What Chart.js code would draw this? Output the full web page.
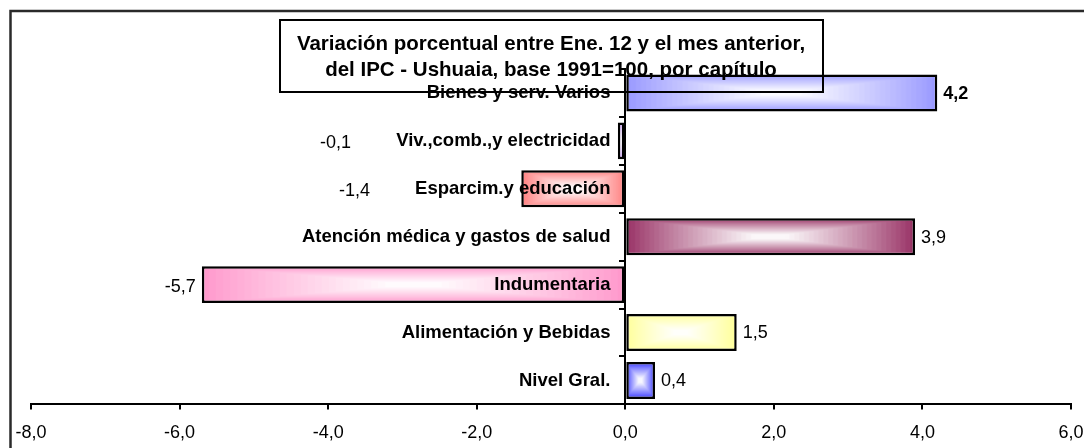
<!DOCTYPE html>
<html>
<head>
<meta charset="utf-8">
<script src="https://cdn.jsdelivr.net/npm/chart.js@4"></script>
<style>
  html, body { margin: 0; padding: 0; background: #fff; }
</style>
</head>
<body>
<canvas id="ipcChart" width="1084" height="448"></canvas>
<script>
const categorias = [
    "Bienes y serv. Varios",
    "Viv.,comb.,y electricidad",
    "Esparcim.y educación",
    "Atención médica y gastos de salud",
    "Indumentaria",
    "Alimentación y Bebidas",
    "Nivel Gral."
];
const variaciones = [4.2, -0.1, -1.4, 3.9, -5.7, 1.5, 0.4];
const coloresBarra = ["#9999FF", "#CC99FF", "#FF8080", "#993366", "#FF99CC", "#FFFF99", "#3333FF"];
const tituloLineas = [
    "Variación porcentual entre Ene. 12 y el mes anterior,",
    "del IPC - Ushuaia, base 1991=100, por capítulo"
];
const ejeMin = -8;
const ejeMax = 6;
const ejePaso = 2;

const FONT = 'Arial, "Liberation Sans", sans-serif';
const BAR_PCT = 0.77;
const CAT_SIZE = 18.5;

function fmt(v) {
    return v.toFixed(1).replace('.', ',');
}

function mix(hex, t) {// t=0 color, t=1 white
    const n = parseInt(hex.slice(1), 16);
    const r = (n >> 16) & 255, g = (n >> 8) & 255, b = n & 255;
    const f = c => Math.round(c + (255 - c) * t);
    return "rgb(" + f(r) + "," + f(g) + "," + f(b) + ")";
}

// rectangular "from center" gradient like the old Excel fills
function rellenoBarra(context) {
    const chart = context.chart;
    const i = context.dataIndex;
    const xs = chart.scales.x, ys = chart.scales.y;
    if (!xs || !ys || i === undefined) return coloresBarra[0];
    const x0 = xs.getPixelForValue(0);
    const x1 = xs.getPixelForValue(variaciones[i]);
    const band = Math.abs(ys.getPixelForValue(1) - ys.getPixelForValue(0));
    const h = Math.round(band * BAR_PCT);
    const w = Math.round(Math.abs(x1 - x0));
    if (!isFinite(h) || !isFinite(w) || h < 2 || w < 2) return coloresBarra[i];
    const left = Math.min(x0, x1);
    const top = ys.getPixelForValue(i) - h / 2;
    const off = document.createElement('canvas');
    off.width = w; off.height = h;
    const oc = off.getContext('2d');
    const steps = 30;
    for (let s = 0; s <= steps; s++) {
        const t = s / steps;
        const ix = t * w / 2, iy = t * h / 2;
        oc.fillStyle = mix(coloresBarra[i], Math.pow(Math.min(1, t * 1.15), 0.9) * 0.96);
        oc.fillRect(ix, iy, w - 2 * ix, h - 2 * iy);
    }
    const pat = chart.ctx.createPattern(off, 'no-repeat');
    pat.setTransform(new DOMMatrix().translate(left, top));
    return pat;
}

const marcoYTitulo = {
    id: 'marcoYTitulo',
    beforeDraw(chart) {
        const ctx = chart.ctx;
        ctx.save();
        ctx.strokeStyle = "#2a2a2a";
        ctx.lineWidth = 2.5;
        ctx.beginPath();
        ctx.moveTo(10.5, chart.height);
        ctx.lineTo(10.5, 11);
        ctx.lineTo(chart.width, 11);
        ctx.stroke();
        ctx.restore();
    },
    afterDraw(chart) {
        const ctx = chart.ctx;
        ctx.save();
        // title box, no fill: it sits over bars and labels
        ctx.strokeStyle = "#000";
        ctx.lineWidth = 2;
        ctx.strokeRect(280, 20, 543, 72);
        ctx.fillStyle = "#000";
        ctx.font = "bold 20.5px " + FONT;
        ctx.textAlign = "center";
        ctx.textBaseline = "middle";
        ctx.fillText(tituloLineas[0], 551, 44);
        ctx.fillText(tituloLineas[1], 551, 70);

        // value labels
        const meta = chart.getDatasetMeta(0);
        const x0 = chart.scales.x.getPixelForValue(0);
        ctx.textBaseline = "middle";
        meta.data.forEach((bar, i) => {
            const v = variaciones[i];
            ctx.font = (i === 0 ? "bold " : "") + "18px " + FONT;
            ctx.fillStyle = "#000";
            if (v >= 0) {
                ctx.textAlign = "left";
                ctx.fillText(fmt(v), bar.x + 6, bar.y + 1);
            } else {
                ctx.font = "bold " + CAT_SIZE + "px " + FONT;
                const catLeft = x0 - 15 - ctx.measureText(categorias[i]).width;
                ctx.font = "18px " + FONT;
                ctx.textAlign = "right";
                ctx.fillText(fmt(v), Math.min(bar.x - 6, catLeft - 45), bar.y + 2);
            }
        });
        ctx.restore();
    }
};

const xTicks = [];
for (let t = ejeMin; t <= ejeMax; t += ejePaso) xTicks.push(t);

function sinPadding(scale) {
    scale.paddingLeft = 0;
    scale.paddingRight = 0;
    scale.paddingTop = 0;
    scale.paddingBottom = 0;
}

const ctx = document.getElementById('ipcChart').getContext('2d');
const myChart = new Chart(ctx, {
    type: 'bar',
    data: {
        labels: categorias,
        datasets: [{
            data: variaciones,
            yAxisID: 'y',
            backgroundColor: rellenoBarra,
            borderColor: '#000',
            borderWidth: 2.5,
            borderSkipped: false,
            barPercentage: BAR_PCT,
            categoryPercentage: 1
        }]
    },
    options: {
        indexAxis: 'y',
        responsive: false,
        animation: false,
        layout: { padding: { top: 69, bottom: -9, left: 31, right: 13 } },
        plugins: {
            legend: { display: false },
            tooltip: { enabled: false }
        },
        scales: {
            x: {
                position: 'bottom',
                min: ejeMin,
                max: ejeMax,
                afterBuildTicks: axis => { axis.ticks = xTicks.map(v => ({ value: v })); },
                afterFit: sinPadding,
                grid: { drawOnChartArea: false, color: '#000', lineWidth: 2, tickLength: 5 },
                border: { color: '#000', width: 2 },
                ticks: {
                    color: '#000',
                    padding: 13,
                    font: { family: FONT, size: 18 },
                    maxRotation: 0,
                    callback: v => fmt(v)
                }
            },
            y: {
                type: 'category',
                position: { x: 0 },
                offset: true,
                afterFit: sinPadding,
                grid: { drawOnChartArea: false, offset: true, color: '#000', lineWidth: 2, tickLength: 5 },
                border: { color: '#000', width: 2 },
                ticks: { display: false }
            },
            // category names sit just left of the zero line, drawn over the bars
            yLab: {
                type: 'category',
                position: { x: -0.2 },
                offset: true,
                afterFit: sinPadding,
                grid: { display: false },
                border: { display: false },
                ticks: {
                    z: 1,
                    color: '#000',
                    font: { family: FONT, size: CAT_SIZE, weight: 'bold' }
                }
            }
        }
    },
    plugins: [marcoYTitulo]
});
myChart.update();
</script>
</body>
</html>
